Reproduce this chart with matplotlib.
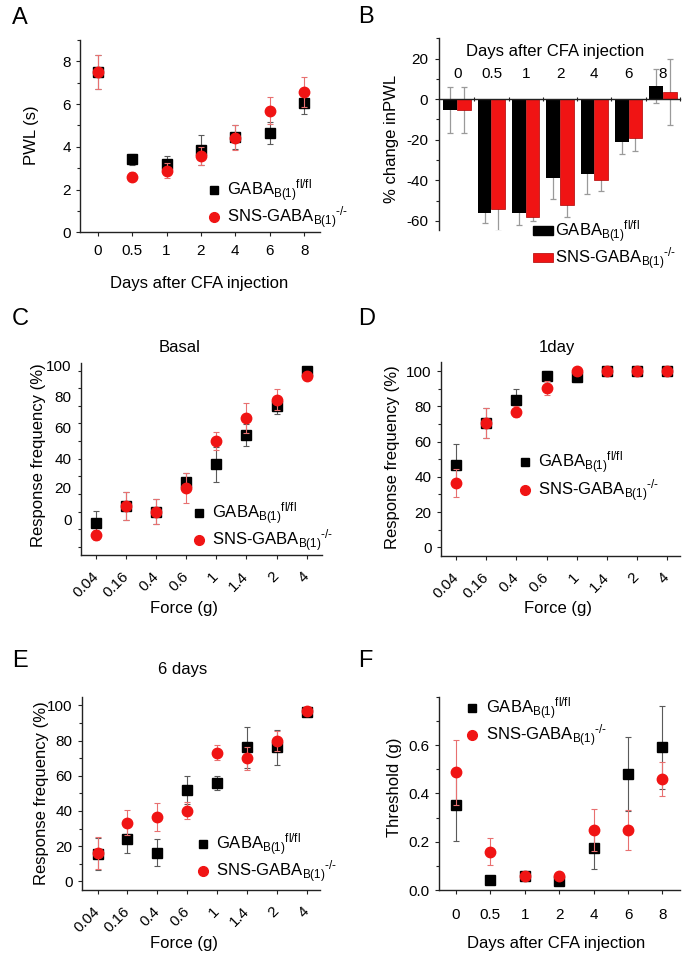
import matplotlib
matplotlib.use('Agg')
import matplotlib.pyplot as plt
import numpy as np
from matplotlib.lines import Line2D
from matplotlib.patches import Patch
from matplotlib.ticker import FixedLocator

plt.rcParams['font.family'] = ['Liberation Sans', 'DejaVu Sans']
plt.rcParams['mathtext.fontset'] = 'custom'
plt.rcParams['mathtext.rm'] = 'Liberation Sans'
plt.rcParams['mathtext.it'] = 'Liberation Sans:italic'
plt.rcParams['mathtext.bf'] = 'Liberation Sans:bold'
plt.rcParams['axes.unicode_minus'] = False

# ---------------- data ----------------
days = ['0', '0.5', '1', '2', '4', '6', '8']
forces = ['0.04', '0.16', '0.4', '0.6', '1', '1.4', '2', '4']

# A: paw withdrawal latency (s)
a_ctrl = [7.50, 3.42, 3.20, 3.85, 4.45, 4.65, 6.07]
a_ctrl_err = [0.80, 0.25, 0.35, 0.72, 0.55, 0.50, 0.55]
a_ko = [7.52, 2.60, 2.88, 3.55, 4.42, 5.70, 6.57]
a_ko_err = [0.80, 0.20, 0.35, 0.42, 0.58, 0.65, 0.70]

# B: % change in PWL
b_ctrl = [-5.4, -56.3, -56.3, -38.9, -36.9, -21.3, 6.7]
b_ctrl_err = [11.2, 4.6, 5.8, 10.4, 10.0, 5.8, 8.4]
b_ko = [-5.4, -54.0, -58.1, -52.2, -39.9, -19.1, 3.6]
b_ko_err = [11.2, 11.2, 1.9, 5.9, 5.3, 6.3, 16.4]

# C: basal response frequency (%)
c_ctrl = [13.3, 23.1, 19.9, 37.0, 46.7, 63.6, 80.1, 100.0]
c_ctrl_err = [6.8, 8.0, 7.0, 4.7, 10.0, 6.3, 5.0, 1.0]
c_ko = [6.6, 23.1, 19.9, 33.2, 60.3, 73.1, 83.5, 96.8]
c_ko_err = [2.8, 8.0, 7.0, 8.5, 5.1, 8.5, 6.0, 2.0]
c_ytick_labels = ['100', '80', '60', '40', '20', '0']
c_ytick_label_pos = [102.7, 85.2, 67.8, 50.2, 33.8, 15.2]

# D: 1 day
d_ctrl = [46.9, 70.3, 83.6, 97.2, 96.8, 100.0, 100.0, 100.0]
d_ctrl_err = [12.0, 8.5, 6.0, 3.0, 3.0, 0.5, 0.5, 0.5]
d_ko = [36.7, 70.3, 76.9, 90.2, 100.0, 100.0, 100.0, 100.0]
d_ko_err = [8.0, 8.5, 3.0, 4.0, 0.5, 0.5, 0.5, 0.5]

# E: 6 days
e_ctrl = [15.5, 23.9, 16.3, 51.9, 56.0, 76.1, 76.1, 96.2]
e_ctrl_err = [9.0, 7.8, 7.5, 8.0, 4.0, 11.8, 10.0, 2.5]
e_ko = [16.3, 33.3, 36.7, 40.2, 73.1, 69.9, 79.9, 96.8]
e_ko_err = [9.0, 7.0, 8.0, 5.0, 4.3, 6.6, 5.7, 2.5]

# F: threshold (g)
f_ctrl = [0.352, 0.041, 0.058, 0.039, 0.172, 0.480, 0.590]
f_ctrl_err = [0.148, 0.005, 0.005, 0.005, 0.086, 0.152, 0.170]
f_ko = [0.487, 0.159, 0.058, 0.059, 0.248, 0.248, 0.459]
f_ko_err = [0.134, 0.055, 0.005, 0.005, 0.086, 0.083, 0.070]

lab_ctrl = r'GABA$_{\mathrm{B(1)}}{}^{\mathrm{fl/fl}}$'
lab_ko = r'SNS-GABA$_{\mathrm{B(1)}}{}^{\text{-/-}}$'
xlab_days = 'Days after CFA injection'
xlab_force = 'Force (g)'
ylab_resp = 'Response frequency (%)'

# ---------------- style ----------------
RED = '#f01414'
BLACK = '#000000'
ERR_K = '#5a5a5a'
ERR_R = '#e87070'
TICK_FS = 11
LAB_FS = 12
LEG_FS = 12
SPINE_C = '#222222'
MS_SQ = 6.5
MS_CI = 7.5

W, H = 685, 956
fig = plt.figure(figsize=(W / 100, H / 100), dpi=100)


def axes_px(l, t, r, b):
    return fig.add_axes([l / W, 1 - b / H, (r - l) / W, (b - t) / H])


def fx(px):
    return px / W


def fy(py):
    return 1 - py / H


def style(ax):
    for s in ['top', 'right']:
        ax.spines[s].set_visible(False)
    for s in ['left', 'bottom']:
        ax.spines[s].set_color(SPINE_C)
        ax.spines[s].set_linewidth(1.0)
    ax.tick_params(which='both', direction='out', color=SPINE_C, width=0.8,
                   labelsize=TICK_FS)
    ax.tick_params(which='major', length=3)
    ax.tick_params(which='minor', length=2.5)


def set_ylabel_px(ax, text, cx, cy):
    ax.set_ylabel(text, fontsize=LAB_FS)
    inv = ax.transAxes.inverted()
    x, y = inv.transform((cx, H - cy))
    ax.yaxis.set_label_coords(x, y)
    ax.yaxis.label.set(va='center', ha='center')


def set_xlabel_px(ax, text, cx, cy):
    ax.set_xlabel(text, fontsize=LAB_FS)
    inv = ax.transAxes.inverted()
    x, y = inv.transform((cx, H - cy))
    ax.xaxis.set_label_coords(x, y)
    ax.xaxis.label.set(va='center', ha='center')


def points(ax, ctrl, ctrl_err, ko, ko_err):
    x = np.arange(len(ctrl))
    ax.errorbar(x, ctrl, yerr=ctrl_err, fmt='s', color=BLACK, ms=MS_SQ,
                ecolor=ERR_K, elinewidth=0.8, capsize=2, capthick=0.8, zorder=3)
    ax.errorbar(x, ko, yerr=ko_err, fmt='o', color=RED, ms=MS_CI,
                ecolor=ERR_R, elinewidth=0.8, capsize=2, capthick=0.8, zorder=4)


def legend_pts(ax, mx, my):
    hs = [Line2D([], [], marker='s', color=BLACK, ls='none', ms=MS_SQ - 0.5),
          Line2D([], [], marker='o', color=RED, ls='none', ms=MS_CI - 0.5)]
    fs_px = LEG_FS * 100 / 72
    hl = 0.9
    ax.legend(hs, [lab_ctrl, lab_ko], loc='center left',
              bbox_to_anchor=(fx(mx - hl * fs_px / 2), fy(my + 12.5)),
              bbox_transform=fig.transFigure, frameon=False, fontsize=LEG_FS,
              handlelength=hl, handletextpad=0.35, borderpad=0,
              borderaxespad=0, labelspacing=0.05)


def title_px(ax, text, cx, cy):
    fig.text(fx(cx), fy(cy), text, fontsize=LAB_FS, ha='center', va='center')


def letter(text, x, ybase):
    fig.text(fx(x), fy(ybase), text, fontsize=17, ha='left', va='baseline')


# ---------------- A ----------------
axA = axes_px(80, 40, 320, 232.3)
style(axA)
points(axA, a_ctrl, a_ctrl_err, a_ko, a_ko_err)
axA.set_xlim(-0.515, 6.46)
axA.set_ylim(0, 9)
axA.set_xticks(np.arange(len(days)), days)
axA.yaxis.set_major_locator(FixedLocator([0, 2, 4, 6, 8]))
axA.yaxis.set_minor_locator(FixedLocator([1, 3, 5, 7, 9]))
axA.tick_params(axis='x', pad=5.5)
set_ylabel_px(axA, 'PWL (s)', 31.7, 135)
set_xlabel_px(axA, xlab_days, 198.7, 283.3)
legend_pts(axA, 214, 192)
letter('A', 11.7, 24)

# ---------------- B ----------------
axB = axes_px(439, 37.7, 680, 230)
style(axB)
xb = np.arange(len(days))
axB.errorbar(xb - 0.2, b_ctrl, yerr=b_ctrl_err, fmt='none', ecolor='#9a9a9a',
             elinewidth=0.9, capsize=2.5, capthick=0.9, zorder=1)
axB.errorbar(xb + 0.2, b_ko, yerr=b_ko_err, fmt='none', ecolor='#9a9a9a',
             elinewidth=0.9, capsize=2.5, capthick=0.9, zorder=1)
axB.bar(xb - 0.2, b_ctrl, width=0.4, color=BLACK, zorder=2)
axB.bar(xb + 0.2, b_ko, width=0.4, color=RED, edgecolor='#b00000',
        linewidth=0.5, zorder=2)
axB.set_xlim(-0.53, 6.5)
axB.set_ylim(-64.5, 30.3)
axB.spines['bottom'].set_position(('data', 0))
axB.set_xticks(xb + 0.5)
axB.tick_params(axis='x', which='major', direction='inout', length=3,
                labelbottom=False)
axB.yaxis.set_major_locator(FixedLocator([-60, -40, -20, 0, 20]))
axB.yaxis.set_minor_locator(FixedLocator([-50, -30, -10, 10, 30]))
axB.tick_params(axis='y', pad=5)
for i, d in enumerate(days):
    axB.text(i, (230 - 74) / 192.3, d, transform=axB.get_xaxis_transform(),
             fontsize=TICK_FS, ha='center', va='center')
axB.text((555.5 - 439) / 241, (230 - 51.7) / 192.3, xlab_days,
         transform=axB.transAxes, fontsize=LAB_FS, ha='center', va='center')
set_ylabel_px(axB, '% change inPWL', 391.7, 139)
fs_px = LEG_FS * 100 / 72
axB.legend([Patch(color=BLACK), Patch(facecolor=RED, edgecolor='#b00000', linewidth=0.5)],
           [lab_ctrl, lab_ko], loc='center left',
           bbox_to_anchor=(fx(533), fy(245)), bbox_transform=fig.transFigure,
           frameon=False, fontsize=LEG_FS, handlelength=20 / fs_px,
           handleheight=0.5, handletextpad=0.12, borderpad=0,
           borderaxespad=0, labelspacing=0.05)
letter('B', 358, 23.3)

# ---------------- C ----------------
def force_axes(ax):
    ax.set_xticks(np.arange(len(forces)), forces)
    for lbl in ax.get_xticklabels():
        lbl.set(rotation=45, ha='right', va='center', rotation_mode='anchor')
    ax.tick_params(axis='x', pad=11)


axC = axes_px(80.7, 362.7, 321.7, 555)
style(axC)
points(axC, c_ctrl, c_ctrl_err, c_ko, c_ko_err)
axC.set_xlim(-0.51, 7.5)
axC.set_ylim(-4.7, 104.5)
force_axes(axC)
axC.set_yticks(c_ytick_label_pos, c_ytick_labels)
axC.yaxis.set_minor_locator(FixedLocator(np.arange(0, 101, 10)))
axC.tick_params(axis='y', which='major', length=0, pad=6.5)
title_px(axC, 'Basal', 180, 347.7)
set_ylabel_px(axC, ylab_resp, 39, 455)
set_xlabel_px(axC, xlab_force, 184, 608)
legend_pts(axC, 199, 515)
letter('C', 11.7, 325)

# ---------------- D ----------------
axD = axes_px(440.7, 361.7, 680, 556)
style(axD)
points(axD, d_ctrl, d_ctrl_err, d_ko, d_ko_err)
axD.set_xlim(-0.52, 7.44)
axD.set_ylim(-4.9, 105.3)
force_axes(axD)
axD.yaxis.set_major_locator(FixedLocator([0, 20, 40, 60, 80, 100]))
axD.yaxis.set_minor_locator(FixedLocator([10, 30, 50, 70, 90]))
title_px(axD, '1day', 556.7, 347.7)
set_ylabel_px(axD, ylab_resp, 392.5, 457)
set_xlabel_px(axD, xlab_force, 558.3, 608.3)
legend_pts(axD, 525, 464.3)
letter('D', 358, 325)

# ---------------- E ----------------
axE = axes_px(81.7, 696.7, 320, 890)
style(axE)
points(axE, e_ctrl, e_ctrl_err, e_ko, e_ko_err)
axE.set_xlim(-0.53, 7.45)
axE.set_ylim(-4.9, 104.9)
force_axes(axE)
axE.yaxis.set_major_locator(FixedLocator([0, 20, 40, 60, 80, 100]))
axE.yaxis.set_minor_locator(FixedLocator([10, 30, 50, 70, 90]))
title_px(axE, '6 days', 182.7, 669.3)
set_ylabel_px(axE, ylab_resp, 41.5, 793)
set_xlabel_px(axE, xlab_force, 184, 943.3)
legend_pts(axE, 202.7, 846)
letter('E', 11.7, 666.7)

# ---------------- F ----------------
axF = axes_px(439, 696.7, 680, 890)
style(axF)
points(axF, f_ctrl, f_ctrl_err, f_ko, f_ko_err)
axF.set_xlim(-0.49, 6.51)
axF.set_ylim(0, 0.8)
axF.set_xticks(np.arange(len(days)), days)
axF.yaxis.set_major_locator(FixedLocator([0, 0.2, 0.4, 0.6]))
axF.yaxis.set_minor_locator(FixedLocator([0.1, 0.3, 0.5, 0.7, 0.8]))
axF.tick_params(axis='x', pad=10)
set_ylabel_px(axF, 'Threshold (g)', 394, 787)
set_xlabel_px(axF, xlab_days, 555.7, 943.3)
legend_pts(axF, 472.3, 710)
letter('F', 358, 666.7)

fig.savefig('out.png', dpi=100)
